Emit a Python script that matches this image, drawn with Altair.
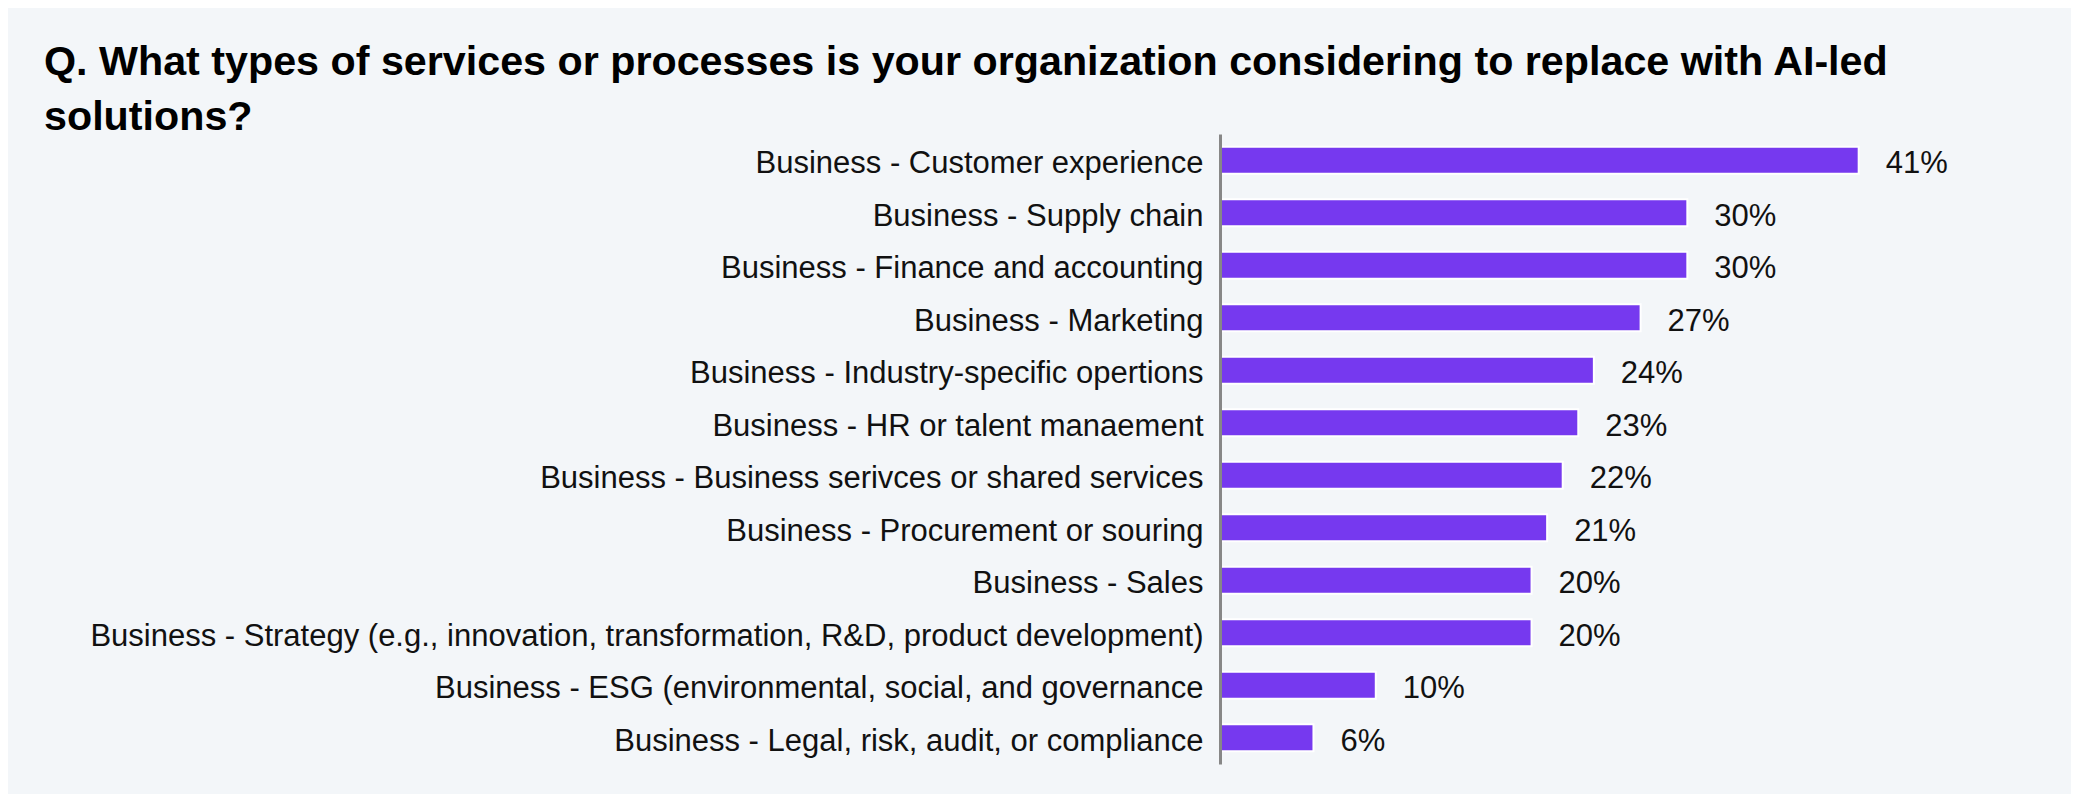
import pandas as pd
import altair as alt

# survey answers, top to bottom as in the chart
categories = [
    "Business - Customer experience",
    "Business - Supply chain",
    "Business - Finance and accounting",
    "Business - Marketing",
    "Business - Industry-specific opertions",
    "Business - HR or talent manaement",
    "Business - Business serivces or shared services",
    "Business - Procurement or souring",
    "Business - Sales",
    "Business - Strategy (e.g., innovation, transformation, R&D, product development)",
    "Business - ESG (environmental, social, and governance",
    "Business - Legal, risk, audit, or compliance",
]
shares = [41, 30, 30, 27, 24, 23, 22, 21, 20, 20, 10, 6]

df = pd.DataFrame({"category": categories, "share": shares})
df["label"] = df["share"].astype(str) + "%"

FONT = "Liberation Sans"
PURPLE = "#7639ef"

y_enc = alt.Y(
    "category:N",
    sort=None,
    title=None,
    scale=alt.Scale(paddingInner=0.49, paddingOuter=0.245),
    axis=alt.Axis(
        ticks=False,
        domainColor="#878787",
        domainWidth=3,
        labelFont=FONT,
        labelFontSize=31,
        labelColor="#111111",
        labelPadding=17,
        labelOffset=4,
        labelLimit=3000,
        zindex=1,
    ),
)
x_enc = alt.X("share:Q", title=None, scale=alt.Scale(domain=[0, 45]), axis=None)

bars = alt.Chart(df).mark_bar(color=PURPLE, stroke="white", strokeWidth=2).encode(
    x=x_enc, y=y_enc
)

labels = alt.Chart(df).mark_text(
    align="left", baseline="middle", dx=27, dy=4, font=FONT, fontSize=31, color="#111111"
).encode(x="share:Q", y=alt.Y("category:N", sort=None), text="label:N")

chart = (bars + labels).properties(
    width=701,
    height=630,
    background="#f3f6f9",
    padding={"left": 1212, "top": 126, "right": 150, "bottom": 30},
    autosize=alt.AutoSizeParams(type="none"),
    title=alt.TitleParams(
        text=[
            "Q. What types of services or processes is your organization considering to replace with AI-led",
            "solutions?",
        ],
        anchor="start",
        frame="group",
        font=FONT,
        fontSize=41.25,
        fontWeight="bold",
        color="#000000",
        lineHeight=55,
        dx=-1176,
        dy=4,
        offset=0,
    ),
).configure_view(stroke=None)

chart.save("out.html", embed_options={"renderer": "svg", "actions": False})
